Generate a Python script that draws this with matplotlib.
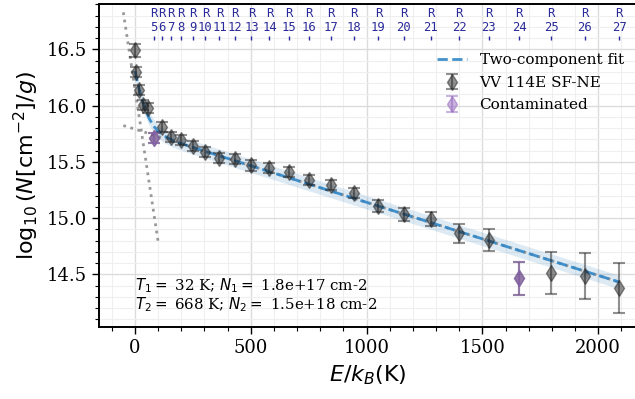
import numpy as np
import matplotlib
matplotlib.use("Agg")
import matplotlib.pyplot as plt
from matplotlib.ticker import MultipleLocator

plt.rcParams['font.family'] = ['DejaVu Serif']
plt.rcParams['mathtext.fontset'] = 'dejavusans'

# ---- data ----
J = np.arange(0, 28)
B_K = 2.7655  # CO rotational constant in K
E_up = B_K * J * (J + 1)
logN = [16.49, 16.30, 16.14, 16.005, 15.98, 15.71, 15.81, 15.72, 15.695, 15.64,
        15.59, 15.53, 15.525, 15.467, 15.448, 15.407, 15.338, 15.29, 15.22, 15.107,
        15.033, 14.99, 14.864, 14.805, 14.464, 14.509, 14.488, 14.376]
logN_err = [0.06, 0.045, 0.045, 0.045, 0.045, 0.045, 0.045, 0.045, 0.045, 0.045,
            0.045, 0.045, 0.045, 0.045, 0.045, 0.045, 0.045, 0.045, 0.045, 0.05,
            0.06, 0.065, 0.085, 0.095, 0.147, 0.187, 0.205, 0.22]
contaminated_J = [5, 24]
label_J = list(range(5, 28))

# two-component fit parameters (displayed) and intercepts
T1, N1 = 32, 1.8e17
T2, N2 = 668, 1.5e18
a1, a2 = 16.15, 15.79
band_halfwidth = 0.06

E_up = np.array(E_up)
logN = np.array(logN)
logN_err = np.array(logN_err)

fig = plt.figure(figsize=(6.35, 3.99), dpi=100)
ax = fig.add_axes([99/635, 72.3/399, 537.4/635, 323.2/399])

ax.set_xlim(-155, 2165)
ax.set_ylim(14.034, 16.907)

ax.xaxis.set_major_locator(MultipleLocator(500))
ax.xaxis.set_minor_locator(MultipleLocator(100))
ax.yaxis.set_major_locator(MultipleLocator(0.5))
ax.yaxis.set_minor_locator(MultipleLocator(0.1))
ax.grid(which='major', color='#dcdcdc', lw=1.0, zorder=0)
ax.grid(which='minor', color='#efefef', lw=0.8, zorder=0)
ax.set_axisbelow(True)
ax.tick_params(which='major', length=5, width=1, labelsize=13, direction='out')
ax.tick_params(which='minor', length=3, width=0.8, direction='out')
for s in ax.spines.values():
    s.set_linewidth(1.4)

# component lines
Ec = np.linspace(-50, 100, 50)
Ew = np.linspace(-50, 2100, 200)
ax.plot(Ec, a1 - Ec/(T1*np.log(10)), ls=':', color='grey', lw=2, alpha=0.8, zorder=2)
ax.plot(Ew, a2 - Ew/(T2*np.log(10)), ls=':', color='grey', lw=2, alpha=0.8, zorder=2)

# total fit
Ef = np.linspace(0, E_up.max(), 400)
fit = np.log10(10**(a1 - Ef/(T1*np.log(10))) + 10**(a2 - Ef/(T2*np.log(10))))
ax.fill_between(Ef, fit - band_halfwidth, fit + band_halfwidth, color='#1f77b4', alpha=0.15, lw=0, zorder=1)
ax.plot(Ef, fit, ls='--', color='#2f86c8', lw=2, alpha=0.9, zorder=3, label='Two-component fit')

# data
ax.errorbar(E_up, logN, yerr=logN_err, fmt='d', ms=8, color='#222222', alpha=0.5,
            capsize=4, elinewidth=1.5, capthick=1.5, zorder=4, label='VV 114E SF-NE')
ci = np.array(contaminated_J)
ax.errorbar(E_up[ci], logN[ci], yerr=logN_err[ci], fmt='d', ms=8, color='#9467bd', alpha=0.5,
            capsize=4, elinewidth=1.5, capthick=1.5, zorder=5, label='Contaminated')

# R line labels
lj = np.array(label_J)
for j in lj:
    ax.text(E_up[j], 16.754, f"R\n{j}", ha='center', va='center', fontsize=8.8,
            family='DejaVu Sans Mono', color='#2a2a9a', linespacing=1.1)
ax.plot(E_up[lj], np.full(len(lj), 16.603), ls='none', marker='|', ms=2.5, mew=1, color='#2a2a9a')

ax.text(0, 14.315, f"$T_1 =$ {T1} K; $N_1 =$ {N1:.1e} cm-2\n$T_2 =$ {T2} K; $N_2 =$ {N2:.1e} cm-2",
        fontsize=10.8, ha='left', va='center', linespacing=1.05)

ax.set_xlabel(r"$E/k_B (\mathrm{K})$", fontsize=16, labelpad=5)
ax.set_ylabel(r"$\log_{10}(N[\mathrm{cm}^{-2}]/g)$", fontsize=16)

leg = ax.legend(loc='upper left', bbox_to_anchor=(0.603, 0.888), frameon=False, fontsize=11,
                labelspacing=0.55)

fig.savefig("out.png", dpi=100)
